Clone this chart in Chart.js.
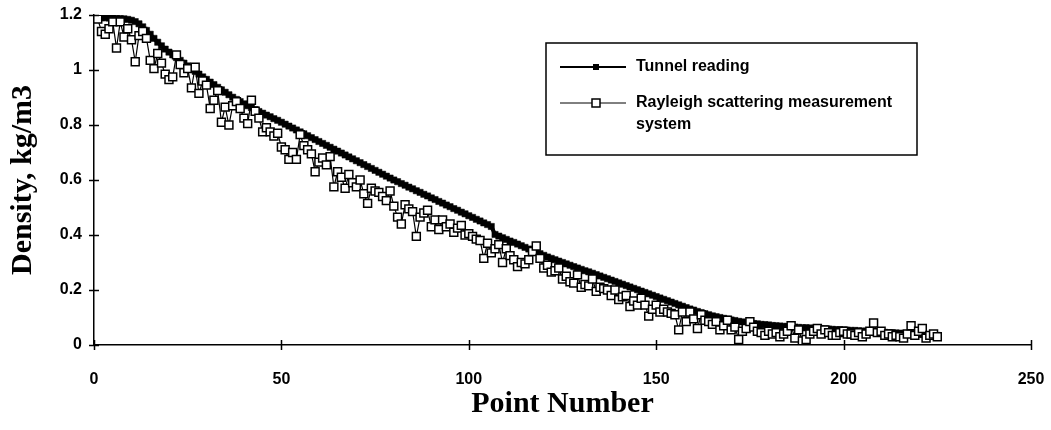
<!DOCTYPE html>
<html>
<head>
<meta charset="utf-8">
<script src="https://cdn.jsdelivr.net/npm/chart.js@4.4.1/dist/chart.umd.min.js"></script>
<style>
  html, body { margin: 0; padding: 0; background: #fff; }
  #wrap { width: 1051px; height: 430px; }
</style>
</head>
<body>
<div id="wrap"><canvas id="c" width="1051" height="430"></canvas></div>
<script>
// ---- data ----
const firstPointNumber = 1;

const tunnelReading = [
  1.190,1.190,1.190,1.189,1.189,1.188,1.187,1.186,1.184,1.181,
  1.176,1.168,1.157,1.144,1.130,1.115,1.101,1.088,1.076,1.065,
  1.055,1.045,1.035,1.025,1.015,1.005,0.995,0.985,0.975,0.966,
  0.956,0.947,0.937,0.928,0.919,0.910,0.901,0.893,0.885,0.877,
  0.870,0.863,0.856,0.849,0.843,0.836,0.830,0.823,0.817,0.810,
  0.803,0.796,0.789,0.782,0.775,0.768,0.761,0.754,0.747,0.740,
  0.733,0.726,0.719,0.712,0.705,0.698,0.691,0.684,0.677,0.670,
  0.663,0.656,0.649,0.642,0.635,0.628,0.621,0.614,0.607,0.600,
  0.594,0.587,0.581,0.574,0.568,0.561,0.555,0.548,0.542,0.535,
  0.529,0.522,0.516,0.509,0.503,0.496,0.490,0.483,0.477,0.470,
  0.464,0.457,0.451,0.444,0.438,0.431,0.402,0.396,0.390,0.384,
  0.378,0.373,0.367,0.361,0.355,0.349,0.344,0.338,0.332,0.326,
  0.320,0.315,0.310,0.305,0.300,0.295,0.290,0.285,0.280,0.275,
  0.270,0.266,0.261,0.256,0.251,0.246,0.241,0.236,0.231,0.226,
  0.221,0.216,0.211,0.206,0.201,0.196,0.191,0.186,0.181,0.176,
  0.171,0.166,0.161,0.156,0.151,0.146,0.141,0.136,0.131,0.127,
  0.122,0.118,0.114,0.110,0.106,0.103,0.100,0.097,0.094,0.091,
  0.089,0.086,0.084,0.082,0.080,0.078,0.077,0.075,0.074,0.073,
  0.071,0.070,0.069,0.068,0.067,0.066,0.065,0.064,0.063,0.063,
  0.062,0.061,0.060,0.059,0.059,0.058,0.057,0.056,0.056,0.055,
  0.054,0.053,0.053,0.052,0.051,0.050,0.049,0.049,0.048,0.047,
  0.046,0.045,0.045,0.044,0.043,0.042,0.041,0.041,0.040,0.039,
  0.038,0.037,0.037,0.036,0.035
];

const rayleighMeasurement = [
  1.185,1.140,1.130,1.150,1.175,1.080,1.175,1.120,1.150,1.110,
  1.030,1.125,1.140,1.115,1.035,1.005,1.060,1.025,0.985,0.965,
  0.975,1.055,1.020,0.990,1.005,0.935,1.010,0.915,0.960,0.945,
  0.860,0.890,0.925,0.810,0.865,0.800,0.870,0.885,0.860,0.825,
  0.805,0.890,0.850,0.825,0.775,0.790,0.775,0.760,0.770,0.720,
  0.710,0.675,0.700,0.675,0.765,0.725,0.710,0.695,0.630,0.665,
  0.680,0.655,0.685,0.575,0.630,0.610,0.570,0.620,0.590,0.575,
  0.600,0.550,0.515,0.570,0.560,0.555,0.540,0.525,0.560,0.505,
  0.465,0.440,0.510,0.495,0.485,0.395,0.465,0.480,0.490,0.430,
  0.455,0.420,0.455,0.430,0.440,0.410,0.425,0.435,0.400,0.405,
  0.395,0.385,0.380,0.315,0.370,0.335,0.350,0.365,0.300,0.350,
  0.325,0.310,0.285,0.300,0.295,0.310,0.340,0.360,0.315,0.280,
  0.290,0.265,0.270,0.280,0.240,0.250,0.230,0.225,0.255,0.210,
  0.220,0.215,0.240,0.195,0.210,0.205,0.200,0.180,0.200,0.165,
  0.175,0.180,0.140,0.160,0.145,0.170,0.145,0.105,0.130,0.145,
  0.120,0.130,0.120,0.115,0.110,0.055,0.120,0.085,0.120,0.095,
  0.060,0.110,0.090,0.085,0.075,0.085,0.055,0.070,0.090,0.055,
  0.065,0.020,0.050,0.060,0.085,0.065,0.050,0.045,0.035,0.050,
  0.040,0.045,0.030,0.040,0.050,0.070,0.025,0.055,0.015,0.020,
  0.040,0.050,0.060,0.040,0.055,0.045,0.035,0.035,0.045,0.050,
  0.040,0.040,0.035,0.045,0.030,0.040,0.050,0.080,0.045,0.050,
  0.035,0.040,0.030,0.035,0.030,0.025,0.040,0.070,0.035,0.050,
  0.060,0.025,0.035,0.040,0.030
];

const xTickValues = [0, 50, 100, 150, 200, 250];
const xTickLabels = ['0', '50', '100', '150', '200', '250'];
const yTickValues = [0, 0.2, 0.4, 0.6, 0.8, 1, 1.2];
const yTickLabels = ['0', '0.2', '0.4', '0.6', '0.8', '1', '1.2'];

const tunnelLegend = ['Tunnel reading'];
const rayleighLegend = ['Rayleigh scattering measurement', 'system'];

const xTitle = 'Point Number';
const yTitle = 'Density, kg/m3';

// ---- build library data ----
const toPoints = arr => arr.map((v, i) => ({ x: firstPointNumber + i, y: v }));

const tickFont = { family: 'Liberation Sans', weight: 'bold', size: 16 };
const titleFont = { family: 'Liberation Serif', weight: 'bold', size: 30 };

const crossTicks = {
  id: 'crossTicks',
  afterDraw(chart) {
    const { ctx, chartArea, scales } = chart;
    ctx.save();
    ctx.strokeStyle = '#000';
    ctx.lineWidth = 1.5;
    ctx.beginPath();
    scales.y.ticks.forEach(t => {
      const py = Math.round(scales.y.getPixelForValue(t.value)) + 0.5;
      ctx.moveTo(chartArea.left - 5, py);
      ctx.lineTo(chartArea.left + 5, py);
    });
    scales.x.ticks.forEach(t => {
      const px = Math.round(scales.x.getPixelForValue(t.value)) + 0.5;
      ctx.moveTo(px, chartArea.bottom - 5);
      ctx.lineTo(px, chartArea.bottom + 5);
    });
    ctx.stroke();
    ctx.restore();
  }
};

const boxLegend = {
  id: 'boxLegend',
  afterDraw(chart) {
    const { ctx } = chart;
    const bx = 546, by = 43, bw = 371, bh = 112;
    ctx.save();
    ctx.strokeStyle = '#000';
    ctx.lineWidth = 1.5;
    ctx.strokeRect(bx, by, bw, bh);
    ctx.font = 'bold 16px "Liberation Sans"';
    ctx.fillStyle = '#000';
    ctx.textBaseline = 'middle';
    ctx.textAlign = 'left';
    const entries = [
      { lines: tunnelLegend, y: 67, filled: true, lw: 2, size: 6 },
      { lines: rayleighLegend, y: 103, filled: false, lw: 1, size: 8 }
    ];
    entries.forEach(e => {
      ctx.beginPath();
      ctx.lineWidth = e.lw;
      ctx.moveTo(560, e.y);
      ctx.lineTo(626, e.y);
      ctx.stroke();
      const s = e.size;
      ctx.lineWidth = 1.5;
      if (e.filled) {
        ctx.fillRect(596 - s / 2, e.y - s / 2, s, s);
      } else {
        ctx.fillStyle = '#fff';
        ctx.fillRect(596 - s / 2, e.y - s / 2, s, s);
        ctx.strokeRect(596 - s / 2, e.y - s / 2, s, s);
        ctx.fillStyle = '#000';
      }
      e.lines.forEach((t, i) => ctx.fillText(t, 636, e.y + i * 22));
    });
    ctx.restore();
  }
};

new Chart(document.getElementById('c'), {
  type: 'line',
  data: {
    datasets: [
      {
        label: rayleighLegend.join(' '),
        data: toPoints(rayleighMeasurement),
        order: 0,
        borderColor: '#000',
        borderWidth: 1.2,
        backgroundColor: '#fff',
        pointStyle: 'rect',
        pointRadius: 5.6,
        pointBorderWidth: 1.5,
        pointBorderColor: '#000',
        pointBackgroundColor: '#fff',
        tension: 0
      },
      {
        label: tunnelLegend.join(' '),
        data: toPoints(tunnelReading),
        order: 1,
        borderColor: '#000',
        borderWidth: 4,
        backgroundColor: '#000',
        pointStyle: 'rect',
        pointRadius: 4.4,
        pointBorderWidth: 0.5,
        pointBorderColor: '#000',
        pointBackgroundColor: '#000',
        tension: 0
      }
    ]
  },
  options: {
    responsive: false,
    animation: false,
    devicePixelRatio: 1,
    layout: { padding: { top: 15, right: 20, left: 0, bottom: 0 } },
    plugins: { legend: { display: false }, tooltip: { enabled: false } },
    scales: {
      x: {
        type: 'linear',
        min: 0, max: 250,
        afterFit: s => { s.height = 85; s.paddingLeft = 0; s.paddingRight = 0; },
        afterBuildTicks: s => { s.ticks = xTickValues.map(v => ({ value: v })); },
        ticks: {
          color: '#000', font: tickFont, padding: 25, maxRotation: 0,
          callback: (v, i) => xTickLabels[i]
        },
        grid: { display: true, drawOnChartArea: false, drawTicks: false },
        border: { display: true, color: '#000', width: 1.5 },
        title: { display: true, text: xTitle, color: '#000', font: titleFont, padding: { top: 0, bottom: 8 } }
      },
      y: {
        type: 'linear',
        min: 0, max: 1.2,
        afterFit: s => { s.width = 94; s.paddingTop = 0; s.paddingBottom = 0; },
        afterBuildTicks: s => { s.ticks = yTickValues.map(v => ({ value: v })); },
        ticks: {
          color: '#000', font: tickFont, padding: 12,
          callback: (v, i) => yTickLabels[i]
        },
        grid: { display: true, drawOnChartArea: false, drawTicks: false },
        border: { display: true, color: '#000', width: 1.5 },
        title: { display: true, text: yTitle, color: '#000', font: titleFont, padding: { top: 5, bottom: 0 } }
      }
    }
  },
  plugins: [crossTicks, boxLegend]
});
</script>
</body>
</html>
